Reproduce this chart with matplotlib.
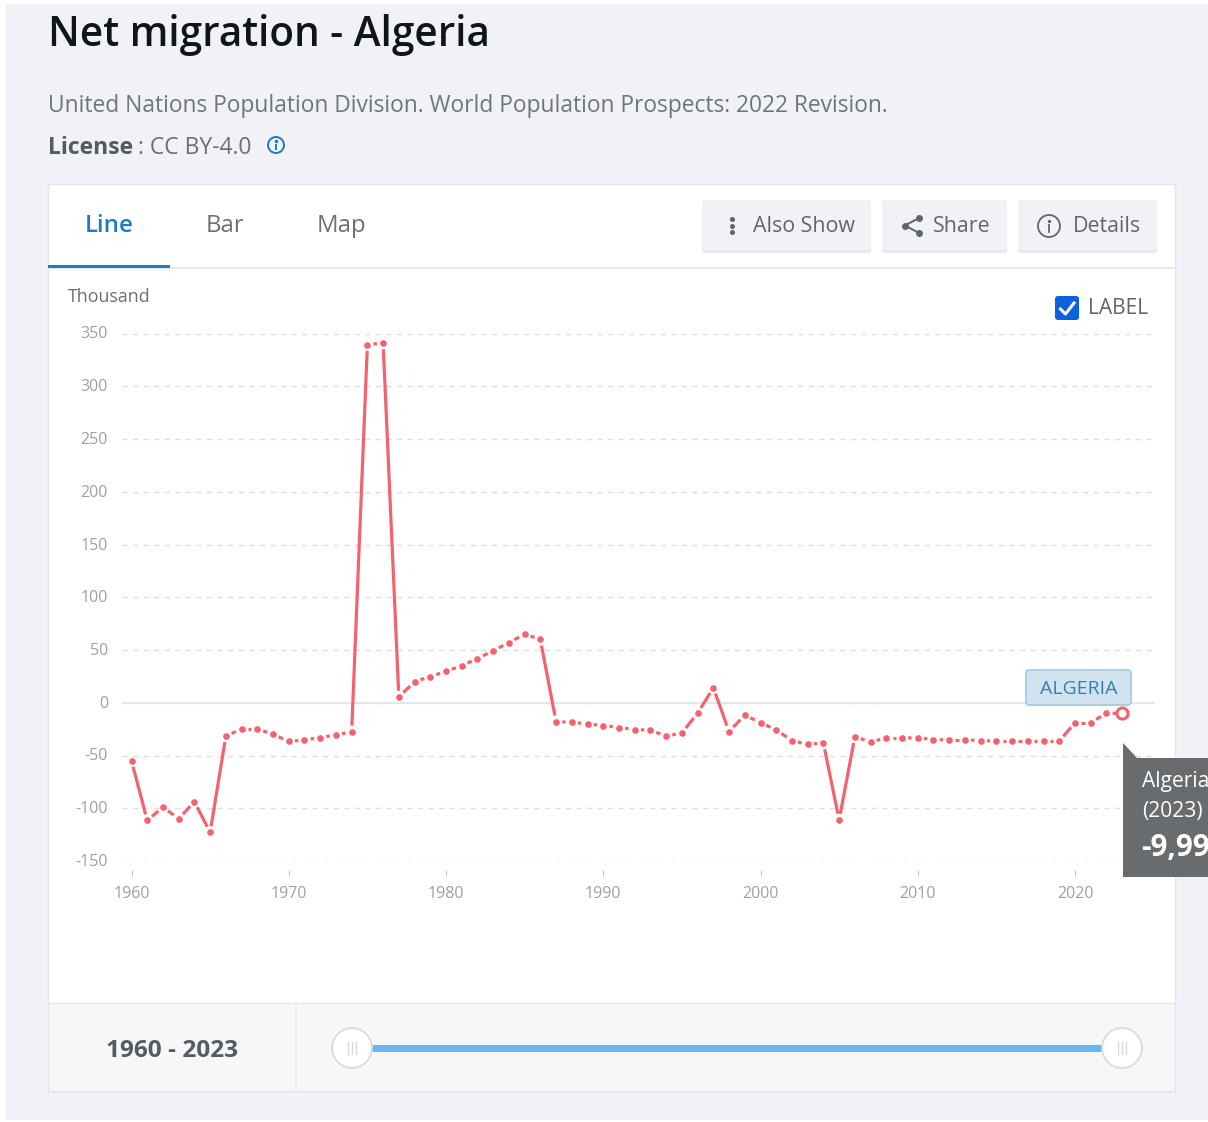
import numpy as np
import matplotlib
matplotlib.use('Agg')
import matplotlib.pyplot as plt
from matplotlib.patches import Rectangle, FancyBboxPatch, Circle, Polygon
from matplotlib.transforms import ScaledTranslation

plt.rcParams['font.family'] = ['Open Sans', 'DejaVu Sans']
plt.rcParams['axes.unicode_minus'] = False

years = list(range(1960, 2024))
net_migration = [-55, -111.5, -98.9, -110, -93.8, -122.8, -31.4, -25, -25, -29.8,
                 -36.7, -35.2, -33, -30.5, -27.6, 339.5, 341, 5.5, 20, 24.8,
                 29.8, 35.2, 41.8, 49.4, 57, 65, 60, -18, -18.5, -20,
                 -21.6, -23.5, -25.4, -26, -31.7, -28.5, -10, 14.3, -27.3, -11.8,
                 -18.8, -25.7, -36, -39.3, -38.3, -111, -32.3, -37, -33.6, -33.6,
                 -33, -34.9, -35.2, -35.2, -35.8, -36.4, -36.4, -36.4, -36.4, -36.4,
                 -18.8, -18.8, -10, -9.99]
y_ticks = [-150, -100, -50, 0, 50, 100, 150, 200, 250, 300, 350]
x_ticks = [1960, 1970, 1980, 1990, 2000, 2010, 2020]

W, H = 1208, 1122
PAGE = '#f0f2f7'
LINE_COL = '#f4626f'
TEXT = '#5f6670'


def px(v):
    # css pixels to points
    return v * 0.72


def pixel_axes(fig, z):
    a = fig.add_axes([0, 0, 1, 1], zorder=z)
    a.set_xlim(0, W)
    a.set_ylim(H, 0)
    a.axis('off')
    return a


def rect(a, x0, y0, x1, y1, fc, ec='none', lw=0, **kw):
    a.add_patch(Rectangle((x0, y0), x1 - x0, y1 - y0, fc=fc, ec=ec, lw=lw, **kw))


def button(a, x0, x1, label, tx):
    a.add_patch(FancyBboxPatch((x0, 200), x1 - x0, 53, boxstyle='round,pad=0,rounding_size=3',
                               fc='#e6e9ee', ec='none'))
    a.add_patch(FancyBboxPatch((x0, 200), x1 - x0, 50, boxstyle='round,pad=0,rounding_size=3',
                               fc='#f0f2f6', ec='none'))
    a.text(tx, 226.5, label, fontsize=px(21.4), color=TEXT, va='center', ha='left')


def info_icon(a, x, y, r, col, lw):
    a.add_patch(Circle((x, y), r, fc='none', ec=col, lw=lw))
    a.plot([x, x], [y - r * 0.05, y + r * 0.5], color=col, lw=lw)
    a.plot([x], [y - r * 0.45], 'o', color=col, ms=lw * 1.1)


fig = plt.figure(figsize=(W / 100, H / 100), dpi=100, facecolor='white')
bg = pixel_axes(fig, 0)

# page and panel
rect(bg, 6, 4, W, 1120, PAGE)
rect(bg, 48, 184, 1175, 1091, 'white', ec='#e3e6eb', lw=1)
rect(bg, 48, 267, 1175, 269, '#e6e9ee')
rect(bg, 48, 265, 170, 268, '#1b7cc1')
rect(bg, 48, 1003, 1175, 1091, '#f6f7f9', ec='#e3e6eb', lw=1)
rect(bg, 295, 1003, 297, 1091, '#e6e9ee')

bg.text(48, 35, 'Net migration - Algeria', fontsize=px(40.5), fontweight='semibold',
        color='#10151b', va='center', ha='left')
bg.text(48, 106, 'United Nations Population Division. World Population Prospects: 2022 Revision.',
        fontsize=px(22.8), color='#6f757d', va='center', ha='left')
bg.text(48, 148, 'License', fontsize=px(22.9), fontweight='bold', color='#555b63', va='center', ha='left')
bg.text(132, 148, ' : CC BY-4.0', fontsize=px(22.9), color='#6a7078', va='center', ha='left')
info_icon(bg, 276, 145, 8, '#1b7cc1', 1.4)

# tabs
bg.text(109, 226, 'Line', fontsize=px(24), fontweight='semibold', color='#1b7cc1', va='center', ha='center')
bg.text(225, 226, 'Bar', fontsize=px(24), color='#6a7078', va='center', ha='center')
bg.text(341, 226, 'Map', fontsize=px(24), color='#6a7078', va='center', ha='center')

# buttons
button(bg, 702, 871, 'Also Show', 753)
button(bg, 882, 1007, 'Share', 933)
button(bg, 1018, 1157, 'Details', 1073)
bg.plot([732, 732, 732], [219, 225.5, 232], 'o', color=TEXT, ms=2.6)
bg.plot([919, 905, 919], [218, 225.5, 233], color=TEXT, lw=1.4)
bg.plot([919, 905, 919], [218, 225.5, 233], 'o', color=TEXT, ms=4)
info_icon(bg, 1049, 226, 11, TEXT, 1.3)

# unit label and checkbox
bg.text(68, 296.5, 'Thousand', fontsize=px(17.8), color='#6b6f75', va='center', ha='left')
bg.add_patch(FancyBboxPatch((1055, 296), 24, 24, boxstyle='round,pad=0,rounding_size=3', fc='#0b62e0', ec='none'))
bg.plot([1060.5, 1065.5, 1074], [309, 314, 303], color='white', lw=2.2)
bg.text(1088, 308, 'LABEL', fontsize=px(21), color=TEXT, va='center', ha='left')

# range slider
bg.text(172, 1051, '1960 - 2023', fontsize=px(24.4), fontweight='bold', color='#555b63', va='center', ha='center')
rect(bg, 352, 1045, 1122, 1052, '#68b8ef')
for hx in (352, 1122):
    bg.add_patch(Circle((hx, 1048), 20, fc='white', ec='#d3dde4', lw=1.3, zorder=3))
    for dx in (-4, 0, 4):
        bg.plot([hx + dx, hx + dx], [1042, 1054], color='#d5d8dc', lw=1, zorder=4)

# chart area, scale: 1960 at x=131.5, 15.725 px a year, 350 at y=333.5, -150 at y=861
left, right, top, bottom = 122, 1155, 333.5, 861
ax = fig.add_axes([left / W, 1 - bottom / H, (right - left) / W, (bottom - top) / H], zorder=1)
ax.patch.set_alpha(0)
ax.set_xlim(1960 + (left - 131.5) / 15.725, 1960 + (right - 131.5) / 15.725)
ax.set_ylim(-150, 350)
for name in ('top', 'left', 'right'):
    ax.spines[name].set_visible(False)
ax.spines['bottom'].set_position(('outward', 6.5))
ax.spines['bottom'].set_visible(False)
ax.set_yticks(y_ticks)
ax.set_xticks(x_ticks)
ax.tick_params(axis='y', length=0, pad=10, labelsize=px(16), labelcolor='#a0a0a0')
ax.tick_params(axis='x', length=px(6), width=0.8, color='#c9c9c9', pad=7, labelsize=px(16), labelcolor='#a0a0a0')
ax.grid(axis='y', color='#dedede', lw=1, linestyle=(0, (3.8, 3.8)))
ax.set_axisbelow(True)
ax.axhline(0, color='#e1e7ec', lw=1.4, zorder=1)
nudge = ScaledTranslation(0, 1 / 100, fig.dpi_scale_trans)
for lab in ax.get_yticklabels():
    lab.set_transform(lab.get_transform() + nudge)

# each segment stops short of its points, so short ones read as dots
fig.canvas.draw()
xy = ax.transData.transform(np.column_stack([years, net_migration]))
for i in range(len(years) - 1):
    length = np.hypot(*(xy[i + 1] - xy[i]))
    t = 6.2 / length
    xs = [years[i] + t * (years[i + 1] - years[i]), years[i + 1] - t * (years[i + 1] - years[i])]
    ys = [net_migration[i] + t * (net_migration[i + 1] - net_migration[i]),
          net_migration[i + 1] - t * (net_migration[i + 1] - net_migration[i])]
    ax.plot(xs, ys, color=LINE_COL, lw=2.3, solid_capstyle='butt', zorder=3, clip_on=False)
ax.plot(years[:-1], net_migration[:-1], 'o', color=LINE_COL, ms=4.8, mew=0, zorder=4, clip_on=False)
ax.plot(years[-1:], net_migration[-1:], 'o', mfc='white', mec=LINE_COL, mew=2.2, ms=8, zorder=5, clip_on=False)

fg = pixel_axes(fig, 2)
fg.patch.set_alpha(0)

# series label
fg.add_patch(FancyBboxPatch((1026, 670), 105, 35, boxstyle='round,pad=0,rounding_size=3',
                            fc='#d2e3f0', ec='#a5cce6', lw=1.3))
fg.text(1078.5, 688.5, 'ALGERIA', fontsize=px(19.5), color='#2f80b6', va='center', ha='center')

# tooltip, cut off by the picture edge as in the original
fg.add_patch(Polygon([[1123, 743], [1137, 758], [1123, 758]], fc='#696c6f', ec='none'))
rect(fg, 1123, 757.5, W, 877, '#696c6f')
fg.text(1142, 781, 'Algeria', fontsize=px(21), color='white', va='center', ha='left', clip_on=True)
fg.text(1142, 811, '(2023)', fontsize=px(21), color='white', va='center', ha='left', clip_on=True)
fg.text(1141, 848, '-9,990', fontsize=px(29.5), fontweight='bold', color='white', va='center', ha='left', clip_on=True)

fig.savefig('out.png', dpi=100, facecolor='white')
